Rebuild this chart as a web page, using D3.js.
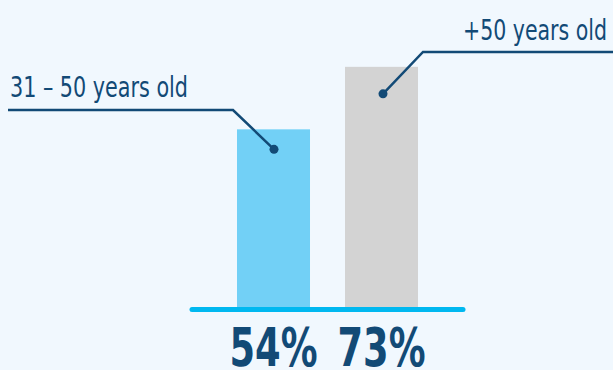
<!DOCTYPE html>
<html>
<head>
<meta charset="utf-8">
<script src="https://cdn.jsdelivr.net/npm/d3@7"></script>
<style>
  html, body { margin: 0; padding: 0; background: #f1f8fe; }
  svg { display: block; }
  text { font-family: "DejaVu Sans Condensed", "DejaVu Sans", sans-serif; font-stretch: condensed; }
</style>
</head>
<body>
<svg id="chart" width="613" height="370"></svg>
<script>
const categories = ["31 – 50 years old", "+50 years old"];
const values = [54, 73];
const valueLabels = ["54%", "73%"];

const barColors = ["#72d0f6", "#d3d3d3"];
const ink = "#124a76";

const W = 613, H = 370;
const svg = d3.select("#chart");
svg.append("rect").attr("width", W).attr("height", H).attr("fill", "#f1f8fe");

const x = d3.scaleBand().domain(categories).range([192, 463])
  .paddingInner(0.324).paddingOuter(0.4167);
const y = d3.scaleLinear().domain([0, 100]).range([307, -22]);

// bars
svg.selectAll("rect.bar").data(values).enter().append("rect")
  .attr("class", "bar")
  .attr("x", (d, i) => x(categories[i]))
  .attr("y", d => y(d))
  .attr("width", x.bandwidth())
  .attr("height", d => y(0) - y(d))
  .attr("fill", (d, i) => barColors[i]);

// baseline
svg.append("line")
  .attr("x1", x.range()[0]).attr("x2", x.range()[1])
  .attr("y1", y(0) + 2.5).attr("y2", y(0) + 2.5)
  .attr("stroke", "#00b8f0").attr("stroke-width", 5).attr("stroke-linecap", "round");

// value labels
svg.selectAll("text.val").data(valueLabels).enter().append("text")
  .attr("class", "val")
  .attr("x", (d, i) => x(categories[i]) + x.bandwidth() / 2)
  .attr("y", 366)
  .attr("text-anchor", "middle")
  .attr("fill", ink)
  .attr("font-weight", "bold")
  .attr("font-size", 54)
  .attr("textLength", 88)
  .attr("lengthAdjust", "spacingAndGlyphs")
  .text(d => d);

// callouts
const callouts = [
  { textX: 10, textY: 97, anchor: "start", lineY: 110, lineX0: 8, elbowX: 233, dotDy: 20, tlen: 178 },
  { textX: 607, textY: 40, anchor: "end", lineY: 52, lineX0: 613, elbowX: 423, dotDy: 27, tlen: 144 }
];
callouts.forEach((c, i) => {
  const cx = x(categories[i]) + x.bandwidth() / 2 + (i === 0 ? 0.5 : 1.5);
  const cy = y(values[i]) + c.dotDy;
  svg.append("path")
    .attr("d", `M${c.lineX0},${c.lineY}H${c.elbowX}L${cx},${cy}`)
    .attr("fill", "none").attr("stroke", ink).attr("stroke-width", 2.5);
  svg.append("circle").attr("cx", cx).attr("cy", cy).attr("r", 4.5).attr("fill", ink);
  svg.append("text")
    .attr("x", c.textX).attr("y", c.textY)
    .attr("text-anchor", c.anchor)
    .attr("fill", ink)
    .attr("font-size", 27.5)
    .attr("textLength", c.tlen)
    .attr("lengthAdjust", "spacingAndGlyphs")
    .text(categories[i]);
});
</script>
</body>
</html>
